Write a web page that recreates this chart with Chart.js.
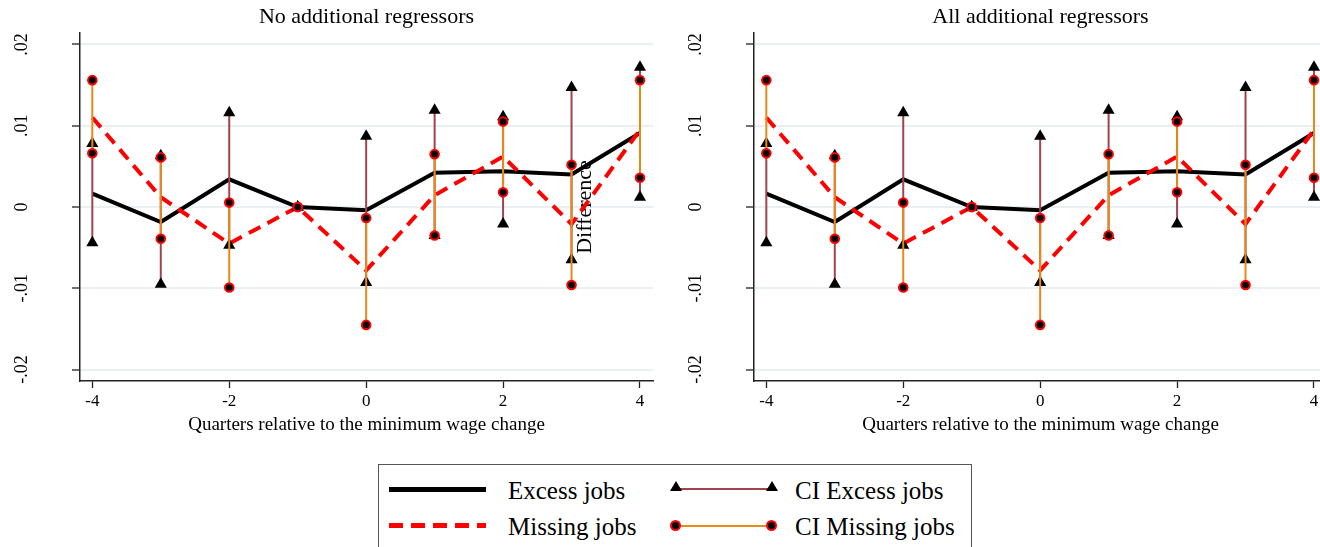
<!DOCTYPE html>
<html lang="en">
<head>
    <meta charset="utf-8" />
    <title>Excess and missing jobs</title>
    <script src="https://cdn.jsdelivr.net/npm/chart.js@4.4.0/dist/chart.umd.min.js"></script>
    <style>
        html, body { margin: 0; padding: 0; background: #fff; }
        body { width: 1320px; height: 547px; overflow: hidden; position: relative; font-family: "Liberation Serif", "DejaVu Serif", serif; }
        .panel { position: absolute; top: 0; width: 660px; height: 436px; }
        #legend { position: absolute; left: 378px; top: 464px; width: 594px; height: 100px; border: 1px solid #555; box-sizing: border-box; }
        .lg { position: absolute; }
        .lg-text { position: absolute; font-size: 25px; line-height: 25px; color: #000; white-space: nowrap; }
        .tri { position: absolute; width: 0; height: 0; border-left: 6px solid transparent; border-right: 6px solid transparent; border-bottom: 10px solid #000; }
        .dot { position: absolute; width: 7px; height: 7px; border-radius: 50%; background: #000; border: 2px solid #f00; }
    </style>
</head>
<body>

    <div class="panel" style="left:0"><canvas id="chartLeft"></canvas></div>
    <div class="panel" style="left:674px"><canvas id="chartRight"></canvas></div>

    <div id="legend">
        <div class="lg" style="left:10px; top:22px; width:97px; height:5px; background:#000"></div>
        <div class="lg" style="left:10px; top:58px; width:97px; height:5px; background:repeating-linear-gradient(90deg, #f00 0 14px, transparent 14px 22px)"></div>
        <div class="lg-text" style="left:129px; top:13px">Excess jobs</div>
        <div class="lg-text" style="left:129px; top:49px">Missing jobs</div>

        <div class="lg" style="left:297px; top:23px; width:96px; height:2px; background:#a0454c"></div>
        <div class="tri" style="left:291px; top:16px"></div>
        <div class="tri" style="left:387px; top:16px"></div>
        <div class="lg" style="left:297px; top:60px; width:96px; height:2px; background:#e8891b"></div>
        <div class="dot" style="left:291px; top:55px"></div>
        <div class="dot" style="left:387px; top:55px"></div>
        <div class="lg-text" style="left:416px; top:13px">CI Excess jobs</div>
        <div class="lg-text" style="left:416px; top:49px">CI Missing jobs</div>
    </div>

    <script>
        // Данные: квартал относительно изменения минимальной зарплаты
        const quarters = [-4, -3, -2, -1, 0, 1, 2, 3, 4];
        const excessJobs = [0.00165, -0.00185, 0.0034, 0, -0.0004, 0.0042, 0.0044, 0.0040, 0.0091];
        const missingJobs = [0.011, 0.0012, -0.0045, 0, -0.0078, 0.00145, 0.0062, -0.0021, 0.0095];
        const ciExcessLow = [-0.0044, -0.0095, -0.0047, 0, -0.0093, -0.0035, -0.0021, -0.0065, 0.0012];
        const ciExcessHigh = [0.0078, 0.0063, 0.0116, 0, 0.0087, 0.0119, 0.0111, 0.0147, 0.0172];
        const ciMissingLow = [0.0066, -0.0039, -0.0099, 0, -0.0145, -0.0035, 0.0018, -0.0096, 0.0036];
        const ciMissingHigh = [0.0156, 0.0061, 0.00054, 0, -0.00136, 0.0065, 0.0105, 0.0052, 0.0156];

        const xTicks = [-4, -2, 0, 2, 4];
        const yTicks = [-0.02, -0.01, 0, 0.01, 0.02];
        const yTickLabels = ['-.02', '-.01', '0', '.01', '.02'];
        const panelTitles = ['No additional regressors', 'All additional regressors'];

        const SERIF = '"Liberation Serif", "DejaVu Serif", serif';

        // вертикальные отрезки доверительных интервалов, разделённые null
        function rangePoints(lo, hi) {
            const pts = [];
            quarters.forEach((q, i) => {
                pts.push({ x: q, y: lo[i] }, { x: q, y: hi[i] }, { x: q, y: null });
            });
            return pts;
        }

        function linePoints(values) {
            return quarters.map((q, i) => ({ x: q, y: values[i] }));
        }

        // заголовок, подписи оси Y (повёрнутые) и "Difference"
        const panelText = {
            id: 'panelText',
            beforeDatasetsDraw(chart, args, opts) {
                if (!opts.sideLabel) return;
                const { ctx, chartArea, scales } = chart;
                ctx.save();
                ctx.fillStyle = '#000';
                ctx.font = '22px ' + SERIF;
                ctx.textAlign = 'center';
                ctx.textBaseline = 'middle';
                ctx.translate(chartArea.right - 68, scales.y.getPixelForValue(0));
                ctx.rotate(-Math.PI / 2);
                ctx.fillText(opts.sideLabel, 0, 0);
                ctx.restore();
            },
            afterDraw(chart, args, opts) {
                const { ctx, chartArea, scales } = chart;
                ctx.save();
                ctx.fillStyle = '#000';
                ctx.textAlign = 'center';
                ctx.textBaseline = 'middle';
                ctx.font = '22px ' + SERIF;
                ctx.fillText(opts.title, (chartArea.left + chartArea.right) / 2, 17);
                ctx.font = '18px ' + SERIF;
                yTicks.forEach((v, i) => {
                    ctx.save();
                    ctx.translate(chartArea.left - 58, scales.y.getPixelForValue(v));
                    ctx.rotate(-Math.PI / 2);
                    ctx.fillText(yTickLabels[i], 0, 0);
                    ctx.restore();
                });
                ctx.restore();
            }
        };

        function makeChart(canvasId, title, sideLabel) {
            const ctx = document.getElementById(canvasId).getContext('2d');
            return new Chart(ctx, {
                type: 'line',
                data: {
                    datasets: [
                        {
                            label: 'Excess jobs',
                            data: linePoints(excessJobs),
                            borderColor: '#000',
                            borderWidth: 4,
                            pointRadius: 0,
                            order: 4
                        },
                        {
                            label: 'Missing jobs',
                            data: linePoints(missingJobs),
                            borderColor: '#ff0000',
                            borderWidth: 4,
                            borderDash: [13, 8],
                            pointRadius: 0,
                            order: 3
                        },
                        {
                            label: 'CI Excess jobs',
                            data: rangePoints(ciExcessLow, ciExcessHigh),
                            borderColor: '#a0454c',
                            borderWidth: 2,
                            spanGaps: false,
                            pointStyle: 'triangle',
                            pointRadius: 7,
                            pointBackgroundColor: '#000',
                            pointBorderColor: '#000',
                            pointBorderWidth: 0,
                            order: 2
                        },
                        {
                            label: 'CI Missing jobs',
                            data: rangePoints(ciMissingLow, ciMissingHigh),
                            borderColor: '#e8891b',
                            borderWidth: 2,
                            spanGaps: false,
                            pointStyle: 'circle',
                            pointRadius: 4.3,
                            pointBackgroundColor: '#000',
                            pointBorderColor: '#ff0000',
                            pointBorderWidth: 2,
                            order: 1
                        }
                    ]
                },
                options: {
                    responsive: false,
                    animation: false,
                    events: [],
                    layout: { padding: { top: 33, right: 5, left: 0, bottom: 0 } },
                    plugins: {
                        legend: { display: false },
                        tooltip: { enabled: false },
                        title: { display: false },
                        panelText: { title: title, sideLabel: sideLabel }
                    },
                    elements: { line: { tension: 0 } },
                    scales: {
                        x: {
                            type: 'linear',
                            min: -4.18,
                            max: 4.19,
                            afterBuildTicks: (s) => { s.ticks = xTicks.map(v => ({ value: v })); },
                            afterFit: (s) => { s.height = 55; },
                            ticks: {
                                color: '#000',
                                font: { family: SERIF, size: 17 },
                                padding: 3,
                                maxRotation: 0,
                                callback: (v) => String(v)
                            },
                            grid: { drawOnChartArea: false, drawTicks: true, tickLength: 7, tickColor: '#222', tickWidth: 1.3 },
                            border: { display: true, color: '#222', width: 1.5 },
                            title: {
                                display: true,
                                text: 'Quarters relative to the minimum wage change',
                                color: '#000',
                                font: { family: SERIF, size: 19 },
                                padding: { top: 0, bottom: 0 }
                            }
                        },
                        y: {
                            type: 'linear',
                            min: -0.0214,
                            max: 0.0214,
                            afterBuildTicks: (s) => { s.ticks = yTicks.map(v => ({ value: v })); },
                            afterFit: (s) => { s.width = 80; },
                            ticks: { display: false },
                            grid: { color: '#e8f0f3', lineWidth: 2, drawTicks: true, tickLength: 8, tickColor: '#222', tickWidth: 1.3 },
                            border: { display: true, color: '#222', width: 1.5 }
                        }
                    }
                },
                plugins: [panelText]
            });
        }

        function sizeCanvas(id) {
            const c = document.getElementById(id);
            c.width = 660; c.height = 436;
            c.style.width = '660px'; c.style.height = '436px';
        }
        sizeCanvas('chartLeft');
        sizeCanvas('chartRight');

        window.chartInstances = {
            left: makeChart('chartLeft', panelTitles[0], 'Difference'),
            right: makeChart('chartRight', panelTitles[1], null)
        };
    </script>
</body>
</html>
